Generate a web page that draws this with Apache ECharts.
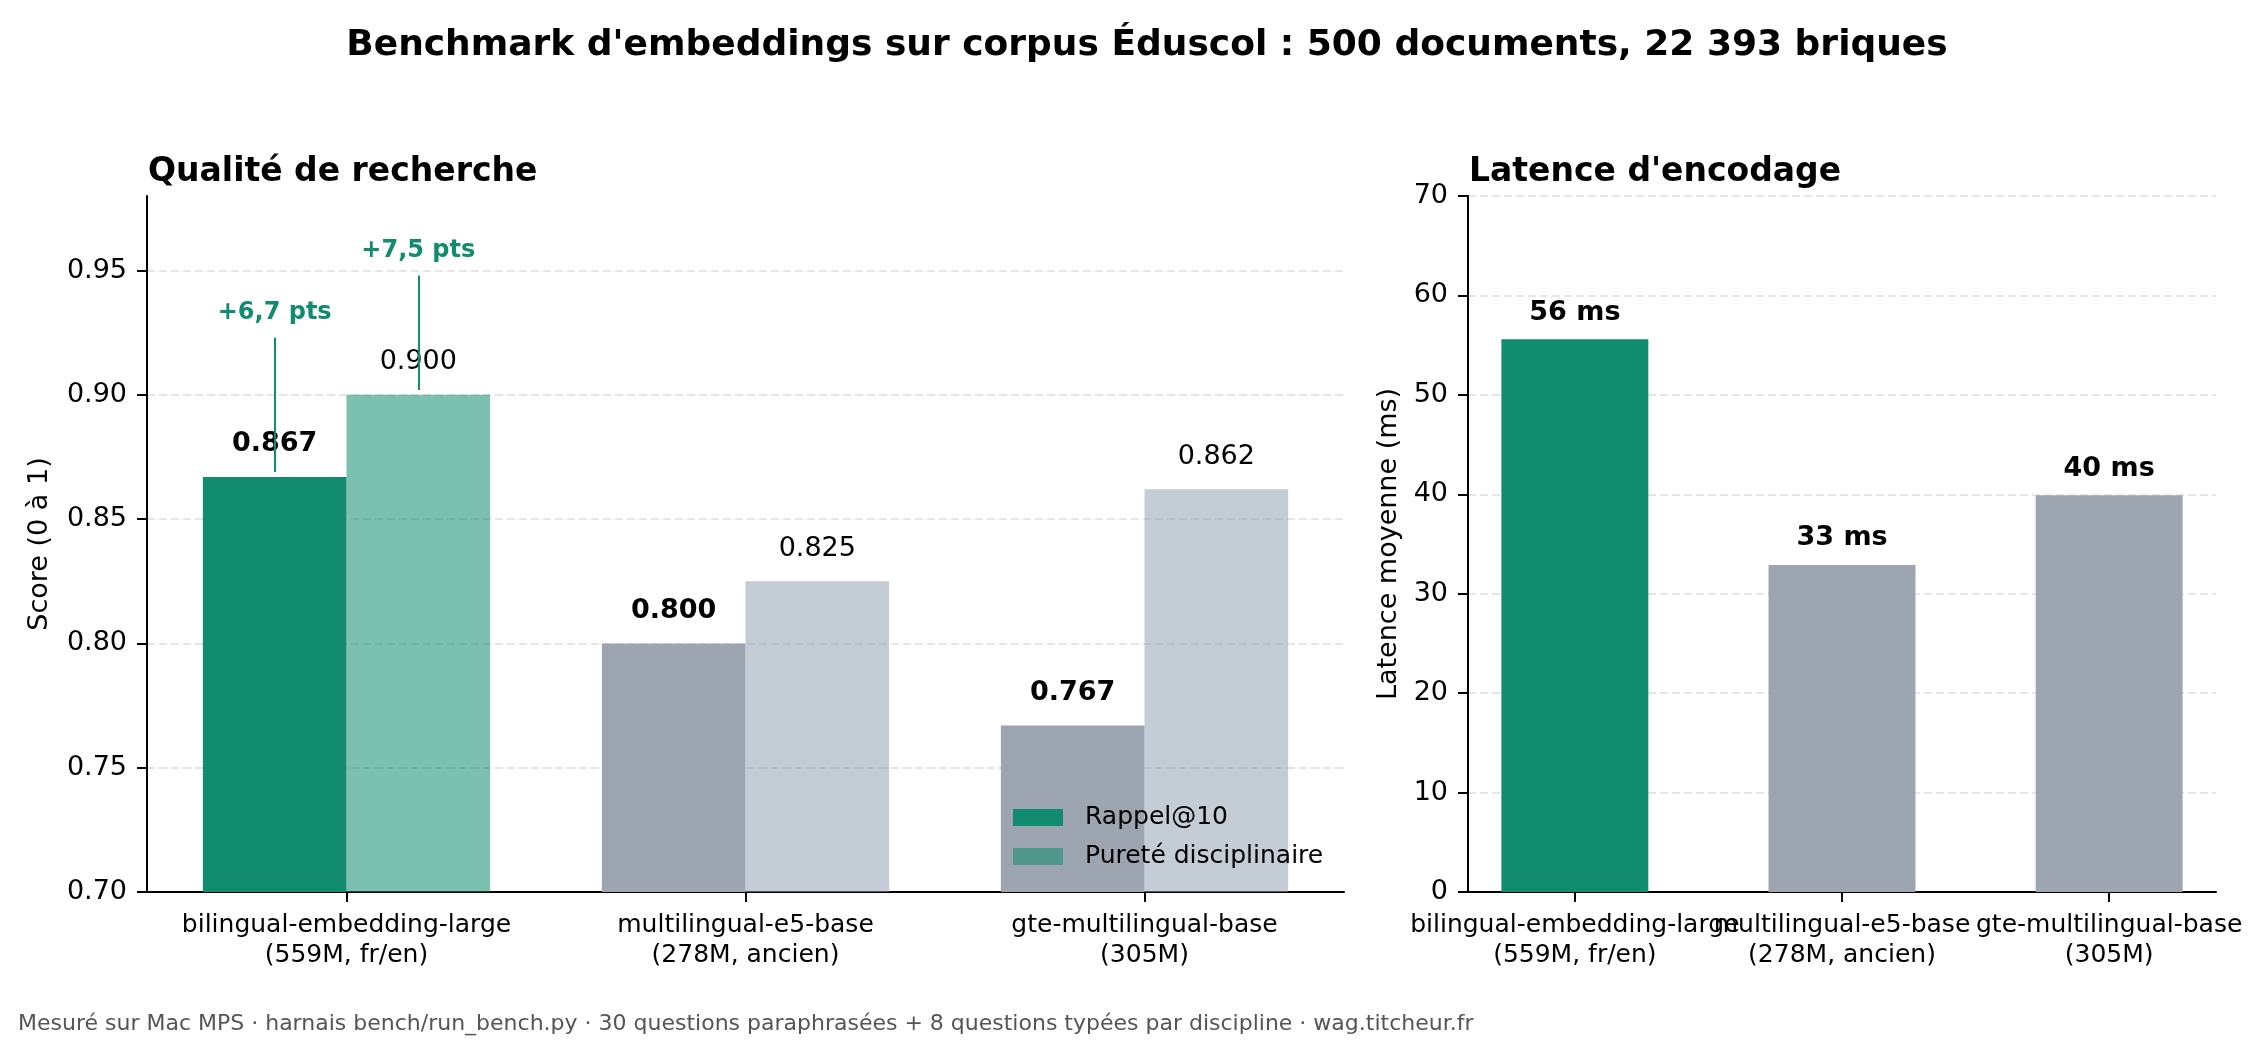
<!DOCTYPE html>
<html>
<head>
<meta charset="utf-8">
<title>Benchmark d'embeddings Éduscol</title>
<script src="https://cdn.jsdelivr.net/npm/echarts@6/dist/echarts.min.js"></script>
<style>
  html, body { margin: 0; padding: 0; background: #fff; }
  #chart { width: 2262px; height: 1054px; }
</style>
</head>
<body>
<div id="chart"></div>
<script>
// modèles comparés
const modelNames = ['bilingual-embedding-large', 'multilingual-e5-base', 'gte-multilingual-base'];
const modelInfos = ['559M, fr/en', '278M, ancien', '305M'];
// qualité de recherche (score 0 à 1)
const rappel10 = [0.867, 0.800, 0.767];
const purete = [0.900, 0.825, 0.862];
// latence d'encodage moyenne (ms)
const latenceMs = [55.6, 32.9, 39.9];
const latenceLabels = ['56 ms', '33 ms', '40 ms'];
// graduations
const scoreTicks = [0.70, 0.75, 0.80, 0.85, 0.90, 0.95];
// écarts annotés au-dessus du modèle retenu
const gainLabels = ['+6,7 pts', '+7,5 pts'];
const gainTops = [0.923, 0.948];

const GREEN = '#118c6e';
const GREEN_LIGHT = 'rgba(17,140,110,0.55)';
const GRAY = '#9ca5b0';
const GRAY_LIGHT = 'rgba(148,162,178,0.55)';
const FONT = '"DejaVu Sans", sans-serif';
const best = 0;

const chart = echarts.init(document.getElementById('chart'));

const modelIdx = modelNames.map((n, i) => i);
const evenIdx = modelIdx.filter(i => i % 2 === 0);
const oddIdx = modelIdx.filter(i => i % 2 === 1);
const catLabel = v => `${modelNames[Math.round(v)]}\n(${modelInfos[Math.round(v)]})`;

const spine = { show: true, onZero: false, lineStyle: { color: '#000', width: 2 } };
const tick = { show: true, length: 10, lineStyle: { color: '#000', width: 2 } };
const grid = { show: true, lineStyle: { color: '#dedede', width: 1.5, type: [8, 4] } };
const catAxisLabel = idx => ({
  customValues: idx, formatter: catLabel, margin: 18, hideOverlap: false,
  fontFamily: FONT, fontSize: 25, lineHeight: 30, color: '#000',
});

// trait + texte au-dessus d'une barre
const gainLine = (i, from, label) => ({
  symbol: ['none', 'none'],
  silent: true,
  animation: false,
  lineStyle: { color: GREEN, width: 2, type: 'solid' },
  label: {
    show: true, position: 'end', distance: 13, color: GREEN,
    fontFamily: FONT, fontWeight: 'bold', fontSize: 24, formatter: label,
  },
  emphasis: { disabled: true },
  data: [[{ coord: [best, from + 0.002] }, { coord: [best, gainTops[i]] }]],
});

const option = {
  animation: false,
  textStyle: { fontFamily: FONT },
  title: [
    {
      text: "Benchmark d'embeddings sur corpus Éduscol : 500 documents, 22 393 briques",
      left: 1147, top: 28, textAlign: 'center', padding: 0,
      textStyle: { fontFamily: FONT, fontSize: 36, fontWeight: 'bold', color: '#000' },
    },
    {
      text: 'Qualité de recherche', left: 148, top: 156, padding: 0,
      textStyle: { fontFamily: FONT, fontSize: 33, fontWeight: 'bold', color: '#000' },
    },
    {
      text: "Latence d'encodage", left: 1469, top: 156, padding: 0,
      textStyle: { fontFamily: FONT, fontSize: 33, fontWeight: 'bold', color: '#000' },
    },
    {
      text: 'Mesuré sur Mac MPS · harnais bench/run_bench.py · 30 questions paraphrasées + 8 questions typées par discipline · wag.titcheur.fr',
      left: 18, top: 1013, padding: 0,
      textStyle: { fontFamily: FONT, fontSize: 22, fontWeight: 'normal', color: '#555' },
    },
  ],
  legend: {
    data: ['Rappel@10', 'Pureté disciplinaire'],
    orient: 'vertical',
    left: 1013, top: 805, padding: 0,
    itemWidth: 50, itemHeight: 17, itemGap: 14,
    icon: 'rect',
    selectedMode: false,
    textStyle: { fontFamily: FONT, fontSize: 25, color: '#000', lineHeight: 24, padding: [0, 0, 0, 17] },
  },
  grid: [
    { left: 147, right: 918, top: 196, bottom: 162 },
    { left: 1468, right: 46, top: 196, bottom: 162 },
  ],
  xAxis: [
    {
      type: 'value', gridIndex: 0, position: 'bottom', min: -0.5, max: 2.5,
      axisLine: spine,
      axisTick: { ...tick, customValues: modelIdx },
      axisLabel: catAxisLabel(modelIdx),
      splitLine: { show: false },
    },
    {
      type: 'value', gridIndex: 1, position: 'bottom', min: -0.4, max: 2.4,
      axisLine: spine,
      axisTick: { ...tick, customValues: modelIdx },
      axisLabel: catAxisLabel(evenIdx),
      splitLine: { show: false },
    },
    // libellés qui chevauchent leurs voisins : axe superposé sans trait
    {
      type: 'value', gridIndex: 1, position: 'bottom', min: -0.4, max: 2.4,
      axisLine: { show: false, onZero: false },
      axisTick: { show: false },
      axisLabel: catAxisLabel(oddIdx),
      splitLine: { show: false },
    },
  ],
  yAxis: [
    {
      type: 'value', gridIndex: 0, min: 0.70, max: 0.98,
      axisLine: spine,
      axisTick: { ...tick, customValues: scoreTicks },
      axisLabel: {
        customValues: scoreTicks, formatter: v => v.toFixed(2), margin: 20,
        fontFamily: FONT, fontSize: 27, color: '#000',
      },
      splitLine: grid,
      name: 'Score (0 à 1)', nameLocation: 'middle', nameGap: 94,
      nameTextStyle: { fontFamily: FONT, fontSize: 27, color: '#000' },
    },
    {
      type: 'value', gridIndex: 1, min: 0, max: 70, interval: 10,
      axisLine: spine,
      axisTick: tick,
      axisLabel: { margin: 20, fontFamily: FONT, fontSize: 27, color: '#000' },
      splitLine: grid,
      name: 'Latence moyenne (ms)', nameLocation: 'middle', nameGap: 66,
      nameTextStyle: { fontFamily: FONT, fontSize: 27, color: '#000' },
    },
  ],
  series: [
    {
      name: 'Rappel@10', type: 'bar', xAxisIndex: 0, yAxisIndex: 0,
      barWidth: '36%', barGap: '0%',
      itemStyle: { color: GREEN },
      data: rappel10.map((v, i) => ({ value: [i, v], itemStyle: { color: i === best ? GREEN : GRAY } })),
      label: {
        show: true, position: 'top', distance: 19,
        fontFamily: FONT, fontSize: 27, fontWeight: 'bold', color: '#000',
        formatter: p => p.value[1].toFixed(3),
      },
      markLine: gainLine(0, rappel10[best], gainLabels[0]),
    },
    {
      name: 'Pureté disciplinaire', type: 'bar', xAxisIndex: 0, yAxisIndex: 0,
      barWidth: '36%', barGap: '0%',
      itemStyle: { color: GREEN_LIGHT },
      data: purete.map((v, i) => ({ value: [i, v], itemStyle: { color: i === best ? GREEN_LIGHT : GRAY_LIGHT } })),
      label: {
        show: true, position: 'top', distance: 19,
        fontFamily: FONT, fontSize: 27, color: '#000',
        formatter: p => p.value[1].toFixed(3),
      },
      markLine: gainLine(1, purete[best], gainLabels[1]),
    },
    {
      name: 'Latence', type: 'bar', xAxisIndex: 1, yAxisIndex: 1,
      barWidth: '55%',
      itemStyle: { color: GREEN },
      data: latenceMs.map((v, i) => ({ value: [i, v], itemStyle: { color: i === best ? GREEN : GRAY } })),
      label: {
        show: true, position: 'top', distance: 13,
        fontFamily: FONT, fontSize: 27, fontWeight: 'bold', color: '#000',
        formatter: p => latenceLabels[p.dataIndex],
      },
    },
  ],
};

chart.setOption(option);
</script>
</body>
</html>
